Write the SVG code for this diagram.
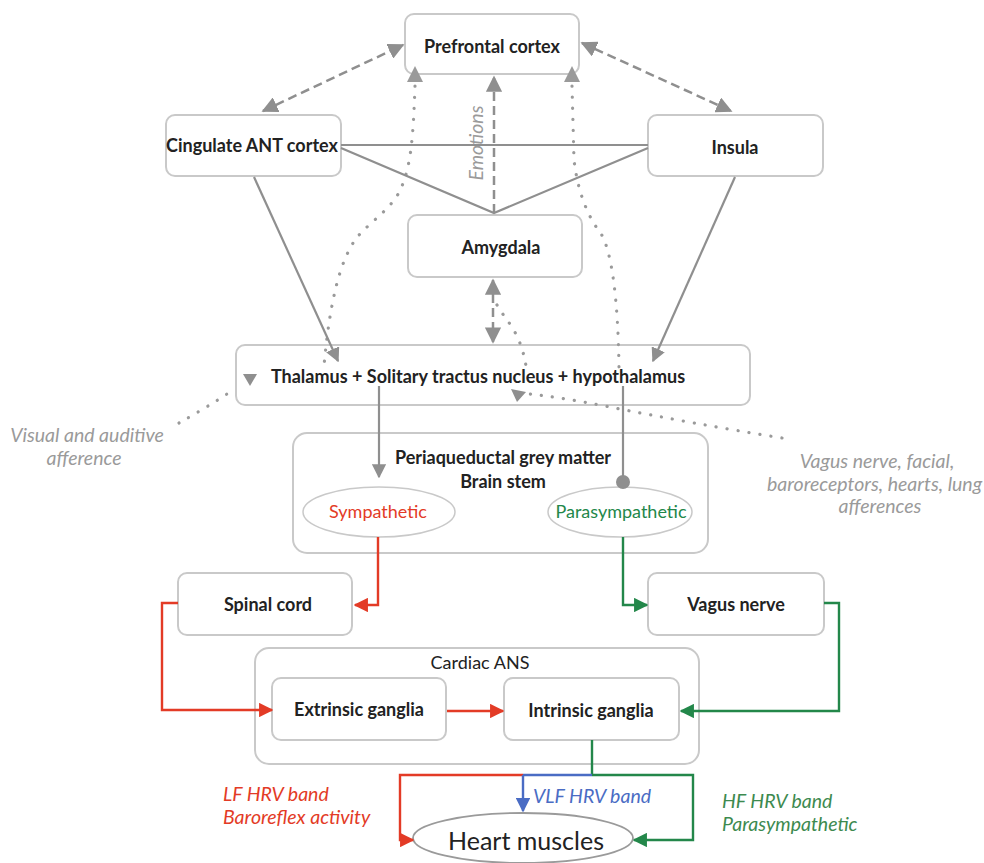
<svg xmlns="http://www.w3.org/2000/svg" width="984" height="863" viewBox="0 0 984 863">
<defs>
<style>
.box{fill:#fff;stroke:#c9c9c9;stroke-width:2}
.t{font-family:Lato,"Open Sans","Liberation Sans",sans-serif;font-size:18px;font-weight:700;fill:#222;text-anchor:middle}
.g{stroke:#8f8f8f;stroke-width:2.2;fill:none}
.dash{stroke:#8f8f8f;stroke-width:2.5;fill:none;stroke-dasharray:9 5}
.dot{stroke:#9a9a9a;stroke-width:3.2;fill:none;stroke-dasharray:0.1 11;stroke-linecap:round}
.r{stroke:#e33b26;stroke-width:2.4;fill:none}
.gr{stroke:#23874a;stroke-width:2.4;fill:none}
.b{stroke:#4a6cc4;stroke-width:2.4;fill:none}
.lab{font-family:Lato,"Open Sans","Liberation Sans",sans-serif;font-size:19.5px;font-style:italic;text-anchor:middle}
</style>
<marker id="ag" viewBox="0 0 10 10" refX="9" refY="5" markerWidth="6.5" markerHeight="6.5" orient="auto-start-reverse"><path d="M0,0L10,5L0,10z" fill="#8f8f8f"/></marker>
<marker id="ar" viewBox="0 0 10 10" refX="9" refY="5" markerWidth="6" markerHeight="6" orient="auto"><path d="M0,0L10,5L0,10z" fill="#e33b26"/></marker>
<marker id="agr" viewBox="0 0 10 10" refX="9" refY="5" markerWidth="6" markerHeight="6" orient="auto"><path d="M0,0L10,5L0,10z" fill="#23874a"/></marker>
<marker id="ab" viewBox="0 0 10 10" refX="9" refY="5" markerWidth="6" markerHeight="6" orient="auto"><path d="M0,0L10,5L0,10z" fill="#4a6cc4"/></marker>
</defs>

<g id="prefrontal"><rect class="box" x="405" y="14" width="174" height="60" rx="9"/><text class="t" x="492" y="53">Prefrontal cortex</text></g>
<g id="cingulate"><rect class="box" x="166" y="115" width="175" height="61" rx="9"/><text class="t" x="252" y="152">Cingulate ANT cortex</text></g>
<g id="insula"><rect class="box" x="648" y="115" width="175" height="61" rx="9"/><text class="t" x="735" y="154">Insula</text></g>
<g id="amygdala"><rect class="box" x="408" y="215" width="174" height="62" rx="9"/><text class="t" x="501" y="254">Amygdala</text></g>
<g id="thalamus"><rect class="box" x="236" y="345" width="514" height="60" rx="9"/><text class="t" x="478" y="383">Thalamus + Solitary tractus nucleus + hypothalamus</text></g>
<g id="brainstem"><rect class="box" x="293" y="433" width="415" height="120" rx="14"/><text class="t" x="503" y="464">Periaqueductal grey matter</text><text class="t" x="503" y="488">Brain stem</text></g>
<g id="sympathetic"><ellipse cx="379" cy="512" rx="76" ry="25" fill="#fff" stroke="#c9c9c9" stroke-width="1.5"/><text class="t" x="378" y="518" style="fill:#e33b26;font-weight:400">Sympathetic</text></g>
<g id="parasympathetic"><ellipse cx="620" cy="512" rx="72" ry="25" fill="#fff" stroke="#c9c9c9" stroke-width="1.5"/><text class="t" x="621" y="518" style="fill:#23874a;font-weight:400">Parasympathetic</text></g>
<g id="spinal"><rect class="box" x="178" y="573" width="174" height="62" rx="9"/><text class="t" x="268" y="611">Spinal cord</text></g>
<g id="vagus"><rect class="box" x="648" y="573" width="176" height="62" rx="9"/><text class="t" x="736" y="611">Vagus nerve</text></g>
<g id="cardiac"><rect class="box" x="255" y="648" width="444" height="116" rx="14"/><text class="t" x="480" y="669" style="font-weight:400">Cardiac ANS</text></g>
<g id="extrinsic"><rect class="box" x="272" y="678" width="174" height="62" rx="9"/><text class="t" x="359" y="716">Extrinsic ganglia</text></g>
<g id="intrinsic"><rect class="box" x="504" y="678" width="175" height="62" rx="9"/><text class="t" x="591" y="717">Intrinsic ganglia</text></g>
<g id="heart"><ellipse cx="523" cy="838" rx="110" ry="25" fill="#fff" stroke="#9a9a9a" stroke-width="1.8"/><text class="t" x="526" y="850" style="font-size:25px;font-weight:400">Heart muscles</text></g>

<g id="connectors">
<!-- dotted afferent paths -->
<path class="dot" d="M415,86 C413,140 411,172 397,196 C385,214 365,226 355,240 C340,262 330,300 324,366"/>
<path class="dot" d="M572,86 L574,160 C578,195 590,220 600,232 C612,250 618,300 619,368"/>
<path class="dot" d="M179,423 C195,414 215,402 227,394"/>
<path class="dot" d="M782,438 C720,428 660,417 610,407 C580,401 555,397 530,394"/>
<path class="dot" d="M497,305 C505,320 520,330 526,366"/>
<path d="M415,66 l-8,16 h16z" fill="#9a9a9a"/>
<path d="M572,66 l-8,16 h16z" fill="#9a9a9a"/>
<path d="M243,374 h14 l-7,12z" fill="#8f8f8f"/>
<path d="M511,389 l15,3 l-9,10z" fill="#8f8f8f"/>

<!-- dashed -->
<line class="dash" x1="263" y1="111" x2="403" y2="45" marker-start="url(#ag)" marker-end="url(#ag)"/>
<line class="dash" x1="582" y1="43" x2="731" y2="111" marker-start="url(#ag)" marker-end="url(#ag)"/>
<line class="dash" x1="494" y1="213" x2="494" y2="77" marker-end="url(#ag)"/>
<line class="dash" x1="493" y1="280" x2="493" y2="342" marker-start="url(#ag)" marker-end="url(#ag)"/>

<!-- solid gray -->
<line class="g" x1="341" y1="145" x2="648" y2="145"/>
<polyline class="g" points="341,148 494,213 648,148"/>
<line class="g" x1="254" y1="177" x2="338" y2="361" marker-end="url(#ag)"/>
<line class="g" x1="735" y1="177" x2="653" y2="361" marker-end="url(#ag)"/>
<line class="g" x1="379" y1="386" x2="379" y2="477" marker-end="url(#ag)"/>
<line class="g" x1="623" y1="386" x2="623" y2="480"/>
<circle cx="623" cy="482" r="7" fill="#8f8f8f"/>

<!-- red -->
<polyline class="r" points="378,537 378,605 355,605" marker-end="url(#ar)"/>
<polyline class="r" points="178,603 162,603 162,710 272,710" marker-end="url(#ar)"/>
<line class="r" x1="447" y1="711" x2="503" y2="711" marker-end="url(#ar)"/>
<polyline class="r" points="523,775 400,775 400,840 413,840" marker-end="url(#ar)"/>

<!-- green -->
<polyline class="gr" points="623,537 623,605 647,605" marker-end="url(#agr)"/>
<polyline class="gr" points="824,603 839,603 839,711 681,711" marker-end="url(#agr)"/>
<line class="gr" x1="592" y1="740" x2="592" y2="775"/>
<polyline class="gr" points="592,775 693,775 693,840 634,840" marker-end="url(#agr)"/>

<!-- blue -->
<line class="b" x1="523" y1="775" x2="592" y2="775"/>
<line class="b" x1="523" y1="775" x2="523" y2="811" marker-end="url(#ab)"/>
</g>

<g id="labels">
<text class="lab" transform="translate(483,143) rotate(-90)" fill="#9a9a9a" font-size="19">Emotions</text>
<text class="lab" x="87" y="442" fill="#9a9a9a">Visual and auditive</text>
<text class="lab" x="84" y="465" fill="#9a9a9a">afference</text>
<text class="lab" x="877" y="468" fill="#9a9a9a">Vagus nerve, facial,</text>
<text class="lab" x="767" y="491" fill="#9a9a9a" style="text-anchor:start">baroreceptors, hearts, lung</text>
<text class="lab" x="880" y="513" fill="#9a9a9a">afferences</text>
<text class="lab" x="223" y="801" fill="#e33b26" style="text-anchor:start">LF HRV band</text>
<text class="lab" x="223" y="824" fill="#e33b26" style="text-anchor:start">Baroreflex activity</text>
<text class="lab" x="533" y="803" fill="#4a6cc4" style="text-anchor:start">VLF HRV band</text>
<text class="lab" x="722" y="808" fill="#3d8a4f" style="text-anchor:start">HF HRV band</text>
<text class="lab" x="722" y="831" fill="#3d8a4f" style="text-anchor:start">Parasympathetic</text>
</g>
</svg>
